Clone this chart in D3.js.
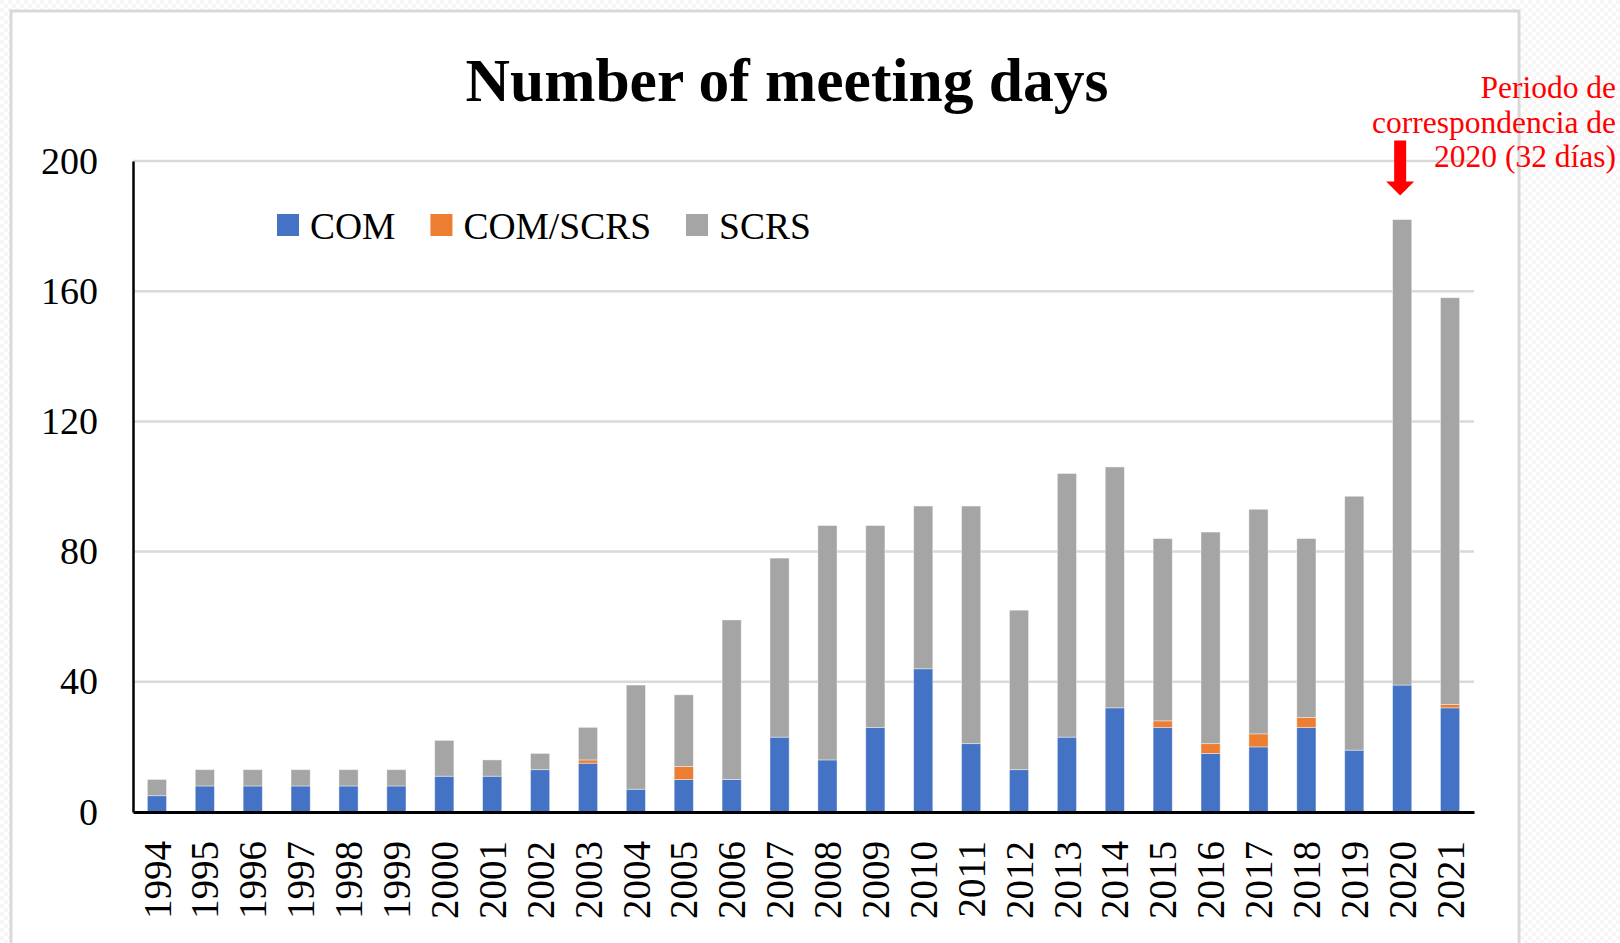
<!DOCTYPE html>
<html>
<head>
<meta charset="utf-8">
<script src="https://cdnjs.cloudflare.com/ajax/libs/d3/7.8.5/d3.min.js"></script>
<style>
    body { margin: 0; background: #fff; }
    svg { display: block; }
    text { font-family: "Liberation Serif", "Times New Roman", serif; }
</style>
</head>
<body>
<script>
"use strict";

// values (meeting days per year)
const years = ["1994", "1995", "1996", "1997", "1998", "1999", "2000", "2001", "2002", "2003",
    "2004", "2005", "2006", "2007", "2008", "2009", "2010", "2011", "2012", "2013",
    "2014", "2015", "2016", "2017", "2018", "2019", "2020", "2021"];
const com = [5, 8, 8, 8, 8, 8, 11, 11, 13, 15, 7, 10, 10, 23, 16, 26, 44, 21, 13, 23, 32, 26, 18, 20, 26, 19, 39, 32];
const comScrs = [0, 0, 0, 0, 0, 0, 0, 0, 0, 1, 0, 4, 0, 0, 0, 0, 0, 0, 0, 0, 0, 2, 3, 4, 3, 0, 0, 1];
const scrs = [5, 5, 5, 5, 5, 5, 11, 5, 5, 10, 32, 22, 49, 55, 72, 62, 50, 73, 49, 81, 74, 56, 65, 69, 55, 78, 143, 125];
const seriesNames = ["COM", "COM/SCRS", "SCRS"];
const yTicks = [0, 40, 80, 120, 160, 200];
const titleText = "Number of meeting days";
const noteLines = ["Periodo de", "correspondencia de", "2020 (32 días)"];
const noteYear = "2020";

(function () {

    let svgContainer = "";

    const colors = {
        "COM": "#4472C4",
        "COM/SCRS": "#ED7D31",
        "SCRS": "#A5A5A5"
    }

    // dimensions for svg
    const measurements = {
        width: 1620,
        height: 943,
        left: 133,
        right: 1474,
        top: 161,
        bottom: 812
    }

    window.onload = function () {
        svgContainer = d3.select('body').append("svg")
            .attr('width', measurements.width)
            .attr('height', measurements.height);
        makeBarChart();
    }

    function makeBarChart() {
        // rows for d3.stack
        const data = years.map((y, i) => ({ year: y, "COM": com[i], "COM/SCRS": comScrs[i], "SCRS": scrs[i] }));

        let scaleX = d3.scaleBand()
            .domain(years)
            .range([measurements.left, measurements.right])
            .paddingInner(0.6)
            .paddingOuter(0.3);

        let scaleY = d3.scaleLinear()
            .domain([0, 200])
            .range([measurements.bottom, measurements.top]);

        drawFrame();
        drawGrid(scaleY);
        plotData(data, scaleX, scaleY);
        drawAxes(scaleX, scaleY);
        drawLegend();
        drawNote(scaleX, scaleY);
    }

    function drawFrame() {
        // faint checker outside the chart area, like a transparent png
        const pat = svgContainer.append('defs').append('pattern')
            .attr('id', 'checker')
            .attr('width', 8).attr('height', 8)
            .attr('patternUnits', 'userSpaceOnUse');
        pat.append('rect').attr('width', 8).attr('height', 8).attr('fill', '#ffffff');
        pat.append('rect').attr('width', 4).attr('height', 4).attr('fill', '#f6f6f6');
        pat.append('rect').attr('x', 4).attr('y', 4).attr('width', 4).attr('height', 4).attr('fill', '#f6f6f6');

        svgContainer.append('rect')
            .attr('width', measurements.width)
            .attr('height', measurements.height)
            .attr('fill', 'url(#checker)');

        svgContainer.append('rect')
            .attr('x', 11)
            .attr('y', 11)
            .attr('width', 1508)
            .attr('height', 960)
            .attr('fill', '#ffffff')
            .attr('stroke', '#d9d9d9')
            .attr('stroke-width', 3);

        svgContainer.append('text')
            .attr('x', 787)
            .attr('y', 101)
            .attr('text-anchor', 'middle')
            .style('font-size', '61.5px')
            .style('font-weight', 'bold')
            .text(titleText);
    }

    function drawGrid(scaleY) {
        svgContainer.append('g')
            .selectAll('line')
            .data(yTicks.filter(t => t > 0))
            .enter()
            .append('line')
            .attr('x1', measurements.left)
            .attr('x2', measurements.right)
            .attr('y1', d => scaleY(d))
            .attr('y2', d => scaleY(d))
            .attr('stroke', '#d9d9d9')
            .attr('stroke-width', 2.5);
    }

    function plotData(data, scaleX, scaleY) {
        const stacked = d3.stack().keys(seriesNames)(data);

        svgContainer.append('g')
            .selectAll('g')
            .data(stacked)
            .enter()
            .append('g')
            .attr('fill', d => colors[d.key])
            .selectAll('rect')
            .data(d => d.filter(p => p[1] > p[0]))
            .enter()
            .append('rect')
            .attr('x', d => scaleX(d.data.year))
            .attr('width', scaleX.bandwidth())
            .attr('y', d => scaleY(d[1]))
            .attr('height', d => scaleY(d[0]) - scaleY(d[1]))
            .attr('stroke', '#ffffff')
            .attr('stroke-opacity', 0.5)
            .attr('stroke-width', 0.8);
    }

    function drawAxes(scaleX, scaleY) {
        let xAxis = d3.axisBottom()
            .scale(scaleX)
            .tickSize(0)
            .tickPadding(0);

        let yAxis = d3.axisLeft()
            .scale(scaleY)
            .tickValues(yTicks)
            .tickSize(0)
            .tickPadding(35);

        const gx = svgContainer.append('g')
            .attr('transform', 'translate(0,' + measurements.bottom + ')')
            .call(xAxis);
        gx.select('.domain').attr('stroke', '#000').attr('stroke-width', 3);
        gx.selectAll('text')
            .attr('transform', 'rotate(-90)')
            .attr('x', -29)
            .attr('y', 0)
            .attr('dy', '0.35em')
            .attr('text-anchor', 'end')
            .attr('fill', '#000')
            .style('font-size', '39px')
            .style('font-family', '"Liberation Serif", serif');

        const gy = svgContainer.append('g')
            .attr('transform', 'translate(' + measurements.left + ',0)')
            .call(yAxis);
        gy.select('.domain').attr('stroke', '#000').attr('stroke-width', 2.5);
        gy.selectAll('text')
            .attr('fill', '#000')
            .style('font-size', '38px')
            .style('font-family', '"Liberation Serif", serif');
    }

    function drawLegend() {
        const legend = svgContainer.append('g')
            .attr('transform', 'translate(277,214)');
        let x = 0;
        seriesNames.forEach(function (name) {
            legend.append('rect')
                .attr('x', x)
                .attr('y', 0)
                .attr('width', 22)
                .attr('height', 22)
                .attr('fill', colors[name]);
            const t = legend.append('text')
                .attr('x', x + 33)
                .attr('y', 25)
                .style('font-size', '37.5px')
                .text(name);
            x += 33 + t.node().getComputedTextLength() + 35;
        });
    }

    function drawNote(scaleX, scaleY) {
        svgContainer.append('g')
            .selectAll('text')
            .data(noteLines)
            .enter()
            .append('text')
            .attr('x', 1616)
            .attr('y', (d, i) => 98 + i * 34.5)
            .attr('text-anchor', 'end')
            .attr('fill', '#ff0000')
            .style('font-size', '31.5px')
            .text(d => d);

        // red arrow pointing at the 2020 bar
        const cx = scaleX(noteYear) + scaleX.bandwidth() / 2 - 2;
        const tip = scaleY(d3.sum([com, comScrs, scrs], a => a[years.indexOf(noteYear)])) - 24;
        const arrow = d3.path();
        arrow.moveTo(cx - 6, tip - 55);
        arrow.lineTo(cx + 6, tip - 55);
        arrow.lineTo(cx + 6, tip - 14);
        arrow.lineTo(cx + 14, tip - 14);
        arrow.lineTo(cx, tip);
        arrow.lineTo(cx - 14, tip - 14);
        arrow.lineTo(cx - 6, tip - 14);
        arrow.closePath();
        svgContainer.append('path')
            .attr('d', arrow.toString())
            .attr('fill', '#ff0000');
    }

})()
</script>
</body>
</html>
